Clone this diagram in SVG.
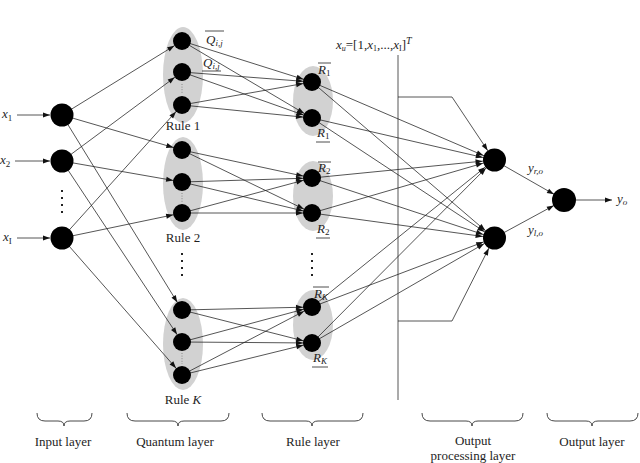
<svg xmlns="http://www.w3.org/2000/svg" width="640" height="463" viewBox="0 0 640 463">
<style>
.t{font-family:"Liberation Serif","Times New Roman",serif;font-size:13px;fill:#1e1e1e}
.i{font-style:italic}
.s{font-size:9px}
.c{fill:none;stroke:#1e1e1e;stroke-width:0.75}
.n{fill:#000}
.e{fill:#d2d2d2}
.dot{fill:#222}
.br{fill:none;stroke:#333;stroke-width:0.9}
.ov{stroke:#222;stroke-width:0.8}
.dl{stroke:#888;stroke-width:1;stroke-dasharray:1,1.6}
</style>
<defs>
<marker id="ah" markerUnits="userSpaceOnUse" markerWidth="7" markerHeight="5" refX="7" refY="2.5" orient="auto" overflow="visible"><path d="M0,0 L7,2.5 L0,5 z" fill="#111"/></marker>
<marker id="ah9" markerUnits="userSpaceOnUse" markerWidth="7" markerHeight="5" refX="16" refY="2.5" orient="auto" overflow="visible"><path d="M0,0 L7,2.5 L0,5 z" fill="#111"/></marker>
<marker id="ah12" markerUnits="userSpaceOnUse" markerWidth="7" markerHeight="5" refX="18.5" refY="2.5" orient="auto" overflow="visible"><path d="M0,0 L7,2.5 L0,5 z" fill="#111"/></marker>
</defs>
<rect width="640" height="463" fill="#fff"/>

<!-- background ellipses -->
<g id="quantum-rule1-group"><ellipse class="e" cx="183" cy="75" rx="20" ry="48"/></g>
<g id="quantum-rule2-group"><ellipse class="e" cx="183" cy="183.5" rx="20" ry="46.5"/></g>
<g id="quantum-ruleK-group"><ellipse class="e" cx="183" cy="344" rx="20" ry="46"/></g>
<g id="rule1-group"><ellipse class="e" cx="313" cy="101" rx="20" ry="35"/></g>
<g id="rule2-group"><ellipse class="e" cx="313" cy="196" rx="20" ry="35"/></g>
<g id="ruleK-group"><ellipse class="e" cx="313" cy="325" rx="20" ry="35"/></g>

<!-- connectors -->
<g id="connectors">
<line class="c" x1="17" y1="115" x2="50" y2="115" marker-end="url(#ah)" stroke="#999"/>
<line class="c" x1="15" y1="161" x2="50" y2="161" marker-end="url(#ah)"/>
<line class="c" x1="17" y1="238" x2="50" y2="238" marker-end="url(#ah)"/>

<line class="c" x1="62" y1="115" x2="182" y2="41" marker-end="url(#ah9)"/>
<line class="c" x1="62" y1="115" x2="182" y2="150" marker-end="url(#ah9)"/>
<line class="c" x1="62" y1="115" x2="182" y2="310" marker-end="url(#ah9)"/>
<line class="c" x1="62" y1="161" x2="182" y2="72" marker-end="url(#ah9)"/>
<line class="c" x1="62" y1="161" x2="182" y2="182" marker-end="url(#ah9)"/>
<line class="c" x1="62" y1="161" x2="182" y2="342" marker-end="url(#ah9)"/>
<line class="c" x1="62" y1="238" x2="182" y2="105" marker-end="url(#ah9)"/>
<line class="c" x1="62" y1="238" x2="182" y2="213" marker-end="url(#ah9)"/>
<line class="c" x1="62" y1="238" x2="182" y2="375" marker-end="url(#ah9)"/>

<line class="c" x1="182" y1="41" x2="312" y2="82" marker-end="url(#ah9)"/>
<line class="c" x1="182" y1="41" x2="312" y2="118" marker-end="url(#ah9)"/>
<line class="c" x1="182" y1="72" x2="312" y2="82" marker-end="url(#ah9)"/>
<line class="c" x1="182" y1="72" x2="312" y2="118" marker-end="url(#ah9)"/>
<line class="c" x1="182" y1="105" x2="312" y2="82" marker-end="url(#ah9)"/>
<line class="c" x1="182" y1="105" x2="312" y2="118" marker-end="url(#ah9)"/>

<line class="c" x1="182" y1="150" x2="312" y2="178" marker-end="url(#ah9)"/>
<line class="c" x1="182" y1="150" x2="312" y2="213" marker-end="url(#ah9)"/>
<line class="c" x1="182" y1="182" x2="312" y2="178" marker-end="url(#ah9)"/>
<line class="c" x1="182" y1="182" x2="312" y2="213" marker-end="url(#ah9)"/>
<line class="c" x1="182" y1="213" x2="312" y2="178" marker-end="url(#ah9)"/>
<line class="c" x1="182" y1="213" x2="312" y2="213" marker-end="url(#ah9)"/>

<line class="c" x1="182" y1="310" x2="312" y2="307" marker-end="url(#ah9)"/>
<line class="c" x1="182" y1="310" x2="312" y2="343" marker-end="url(#ah9)"/>
<line class="c" x1="182" y1="342" x2="312" y2="307" marker-end="url(#ah9)"/>
<line class="c" x1="182" y1="342" x2="312" y2="343" marker-end="url(#ah9)"/>
<line class="c" x1="182" y1="375" x2="312" y2="307" marker-end="url(#ah9)"/>
<line class="c" x1="182" y1="375" x2="312" y2="343" marker-end="url(#ah9)"/>

<line class="c" x1="312" y1="82" x2="494" y2="160" marker-end="url(#ah12)"/>
<line class="c" x1="312" y1="82" x2="494" y2="238" marker-end="url(#ah12)"/>
<line class="c" x1="312" y1="118" x2="494" y2="160" marker-end="url(#ah12)"/>
<line class="c" x1="312" y1="118" x2="494" y2="238" marker-end="url(#ah12)"/>
<line class="c" x1="312" y1="178" x2="494" y2="160" marker-end="url(#ah12)"/>
<line class="c" x1="312" y1="178" x2="494" y2="238" marker-end="url(#ah12)"/>
<line class="c" x1="312" y1="213" x2="494" y2="160" marker-end="url(#ah12)"/>
<line class="c" x1="312" y1="213" x2="494" y2="238" marker-end="url(#ah12)"/>
<line class="c" x1="312" y1="307" x2="494" y2="160" marker-end="url(#ah12)"/>
<line class="c" x1="312" y1="307" x2="494" y2="238" marker-end="url(#ah12)"/>
<line class="c" x1="312" y1="343" x2="494" y2="160" marker-end="url(#ah12)"/>
<line class="c" x1="312" y1="343" x2="494" y2="238" marker-end="url(#ah12)"/>

<line class="c" x1="398" y1="55" x2="398" y2="400"/>
<polyline class="c" points="398,97 452,97 494,160" marker-end="url(#ah12)"/>
<polyline class="c" points="398,321 452,321 494,238" marker-end="url(#ah12)"/>

<line class="c" x1="494" y1="160" x2="564" y2="200" marker-end="url(#ah12)"/>
<line class="c" x1="494" y1="238" x2="564" y2="200" marker-end="url(#ah12)"/>
<line class="c" x1="576" y1="200" x2="612" y2="200" marker-end="url(#ah)"/>
</g>

<!-- input layer -->
<g id="input-x1"><circle class="n" cx="62" cy="115" r="11.5"/><text class="t i" x="2" y="118">x<tspan class="s" font-style="normal" dy="3">1</tspan></text></g>
<g id="input-x2"><circle class="n" cx="62" cy="161" r="11.5"/><text class="t i" x="0" y="164">x<tspan class="s" font-style="normal" dy="3">2</tspan></text></g>
<g id="input-xI"><circle class="n" cx="62" cy="238" r="11.5"/><text class="t i" x="3" y="241">x<tspan class="s" font-style="normal" dy="3">I</tspan></text></g>
<g id="input-dots"><rect class="dot" x="61" y="190" width="2" height="2"/><rect class="dot" x="61" y="197" width="2" height="2"/><rect class="dot" x="61" y="204" width="2" height="2"/><rect class="dot" x="61" y="211" width="2" height="2"/></g>

<!-- quantum layer -->
<g id="q1">
<circle class="n" cx="182" cy="41" r="9"/><circle class="n" cx="182" cy="72" r="9"/><circle class="n" cx="182" cy="105" r="9"/>
<line class="dl" x1="182" y1="84" x2="182" y2="94"/>
<text class="t" x="183" y="130" text-anchor="middle">Rule 1</text>
<text class="t i" x="206" y="44" font-size="12">Q<tspan class="s" dy="2">i,j</tspan></text>
<line class="ov" x1="205" y1="31" x2="224" y2="31"/>
<text class="t i" x="203" y="67" font-size="12">Q<tspan class="s" dy="2">i,j</tspan></text>
<line class="ov" x1="202" y1="71" x2="221" y2="71"/>
</g>
<g id="q2">
<circle class="n" cx="182" cy="150" r="9"/><circle class="n" cx="182" cy="182" r="9"/><circle class="n" cx="182" cy="213" r="9"/>
<line class="dl" x1="182" y1="193" x2="182" y2="203"/>
<text class="t" x="183" y="242" text-anchor="middle">Rule 2</text>
</g>
<g id="q-dots"><rect class="dot" x="181" y="253" width="2" height="2"/><rect class="dot" x="181" y="260" width="2" height="2"/><rect class="dot" x="181" y="267" width="2" height="2"/><rect class="dot" x="181" y="274" width="2" height="2"/></g>
<g id="qK">
<circle class="n" cx="182" cy="310" r="9"/><circle class="n" cx="182" cy="342" r="9"/><circle class="n" cx="182" cy="375" r="9"/>
<line class="dl" x1="182" y1="353" x2="182" y2="364"/>
<text class="t" x="183" y="404" text-anchor="middle">Rule <tspan class="i">K</tspan></text>
</g>

<!-- rule layer -->
<g id="r1">
<circle class="n" cx="312" cy="82" r="9"/><circle class="n" cx="312" cy="118" r="9"/>
<text class="t i" x="318" y="74" font-size="12">R<tspan class="s" font-style="normal" dy="2">1</tspan></text>
<line class="ov" x1="318" y1="63" x2="331" y2="63"/>
<text class="t i" x="317" y="137" font-size="12">R<tspan class="s" font-style="normal" dy="2">1</tspan></text>
<line class="ov" x1="316" y1="142" x2="330" y2="142"/>
</g>
<g id="r2">
<circle class="n" cx="312" cy="178" r="9"/><circle class="n" cx="312" cy="213" r="9"/>
<text class="t i" x="318" y="172" font-size="12">R<tspan class="s" font-style="normal" dy="2">2</tspan></text>
<line class="ov" x1="318" y1="162" x2="331" y2="162"/>
<text class="t i" x="317" y="233" font-size="12">R<tspan class="s" font-style="normal" dy="2">2</tspan></text>
<line class="ov" x1="316" y1="238" x2="330" y2="238"/>
</g>
<g id="r-dots"><rect class="dot" x="311" y="253" width="2" height="2"/><rect class="dot" x="311" y="260" width="2" height="2"/><rect class="dot" x="311" y="267" width="2" height="2"/><rect class="dot" x="311" y="274" width="2" height="2"/></g>
<g id="rK">
<circle class="n" cx="312" cy="307" r="9"/><circle class="n" cx="312" cy="343" r="9"/>
<text class="t i" x="314" y="298" font-size="12">R<tspan class="s" dy="2">K</tspan></text>
<line class="ov" x1="313" y1="287" x2="329" y2="287"/>
<text class="t i" x="313" y="362" font-size="12">R<tspan class="s" dy="2">K</tspan></text>
<line class="ov" x1="312" y1="367" x2="328" y2="367"/>
</g>

<!-- output processing -->
<g id="xu-label"><text class="t" x="336" y="49" font-size="12"><tspan class="i">x</tspan><tspan class="i" font-size="8" dy="2">u</tspan><tspan dy="-2">=[1,</tspan><tspan class="i">x</tspan><tspan font-size="8" dy="2">1</tspan><tspan dy="-2">,...,</tspan><tspan class="i">x</tspan><tspan font-size="8" dy="2">I</tspan><tspan dy="-2">]</tspan><tspan class="i" font-size="10" dy="-5">T</tspan></text></g>
<g id="op-r"><circle class="n" cx="494.5" cy="160" r="11.5"/><text class="t i" x="528" y="172" font-size="12">y<tspan class="s" dy="2">r,o</tspan></text></g>
<g id="op-l"><circle class="n" cx="494.5" cy="238" r="11.5"/><text class="t i" x="528" y="234" font-size="12">y<tspan class="s" dy="2">l,o</tspan></text></g>

<!-- output -->
<g id="out"><circle class="n" cx="564" cy="200" r="12"/><text class="t i" x="617" y="203" font-size="12">y<tspan class="s" dy="2">o</tspan></text></g>

<!-- braces and layer labels -->
<g id="layer-input"><path class="br" d="M37,413 Q37,421 45,421 L58,421 Q64,421 64,426 Q64,421 70,421 L84,421 Q92,421 92,413"/><text class="t" x="63" y="446" text-anchor="middle">Input layer</text></g>
<g id="layer-quantum"><path class="br" d="M127,413 Q127,421 135,421 L172,421 Q178,421 178,426 Q178,421 184,421 L221,421 Q229,421 229,413"/><text class="t" x="175" y="446" text-anchor="middle">Quantum layer</text></g>
<g id="layer-rule"><path class="br" d="M262,413 Q262,421 270,421 L306,421 Q312,421 312,426 Q312,421 318,421 L355,421 Q363,421 363,413"/><text class="t" x="313" y="446" text-anchor="middle">Rule layer</text></g>
<g id="layer-outproc"><path class="br" d="M422,413 Q422,421 430,421 L466,421 Q472,421 472,426 Q472,421 478,421 L515,421 Q523,421 523,413"/><text class="t" x="473" y="445" text-anchor="middle">Output</text><text class="t" x="473" y="460" text-anchor="middle">processing layer</text></g>
<g id="layer-output"><path class="br" d="M547,413 Q547,421 555,421 L586,421 Q592,421 592,426 Q592,421 598,421 L630,421 Q638,421 638,413"/><text class="t" x="592" y="446" text-anchor="middle">Output layer</text></g>
</svg>
